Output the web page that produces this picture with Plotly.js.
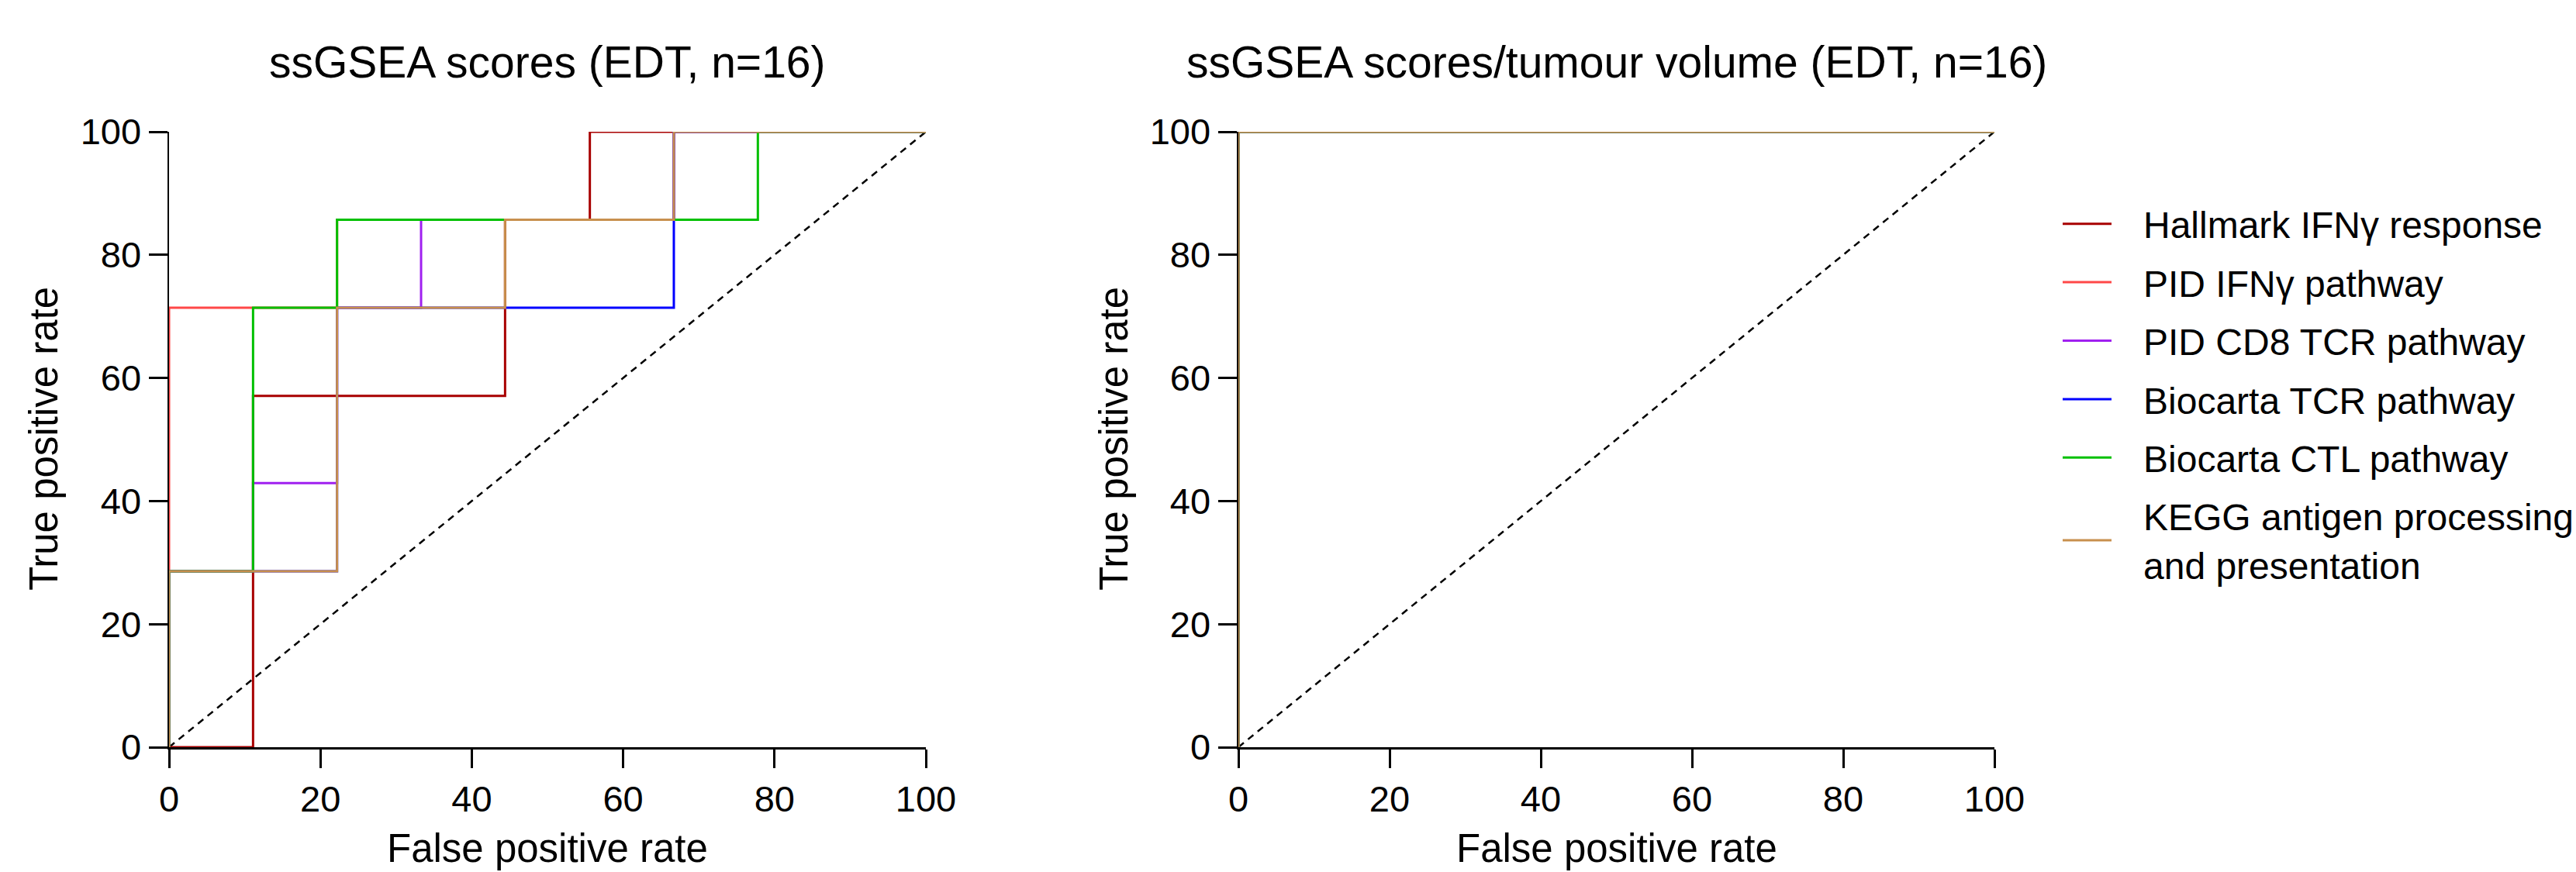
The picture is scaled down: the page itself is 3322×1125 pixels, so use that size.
<!DOCTYPE html>
<html><head><meta charset="utf-8">
<script src="https://cdn.plot.ly/plotly-3.0.1.min.js"></script>
<style>html,body{margin:0;padding:0;background:#fff}</style>
</head><body><div id="chart" style="width:3322px;height:1125px"></div>
<script>
// ---- data ----
const seriesNames = ["Hallmark IFNγ response", "PID IFNγ pathway", "PID CD8 TCR pathway",
  "Biocarta TCR pathway", "Biocarta CTL pathway", "KEGG antigen processing<br>and presentation"];
const seriesColors = ["#A80000", "#FF4848", "#A020F0", "#0000FF", "#00C000", "#C8904E"];

// Left panel: ssGSEA scores (FPR %, TPR %)
const hallmarkFPR = [0, 11.1, 11.1, 44.4, 44.4, 55.6, 55.6, 100];
const hallmarkTPR = [0, 0, 57.1, 57.1, 85.7, 85.7, 100, 100];
const pidIfngFPR = [0, 0, 22.2, 22.2, 66.7, 66.7, 100];
const pidIfngTPR = [0, 71.4, 71.4, 85.7, 85.7, 100, 100];
const pidCd8FPR = [0, 0, 11.1, 11.1, 22.2, 22.2, 33.3, 33.3, 66.7, 66.7, 100];
const pidCd8TPR = [0, 28.6, 28.6, 42.9, 42.9, 71.4, 71.4, 85.7, 85.7, 100, 100];
const biocartaTcrFPR = [0, 0, 22.2, 22.2, 66.7, 66.7, 100];
const biocartaTcrTPR = [0, 28.6, 28.6, 71.4, 71.4, 100, 100];
const biocartaCtlFPR = [0, 0, 11.1, 11.1, 22.2, 22.2, 77.8, 77.8, 100];
const biocartaCtlTPR = [0, 28.6, 28.6, 71.4, 71.4, 85.7, 85.7, 100, 100];
const keggFPR = [0, 0, 22.2, 22.2, 44.4, 44.4, 66.7, 66.7, 100];
const keggTPR = [0, 28.6, 28.6, 71.4, 71.4, 85.7, 85.7, 100, 100];

// Right panel: ssGSEA scores / tumour volume (all series identical, perfect classifier)
const rightFPR = [0, 0, 100];
const rightTPR = [0, 100, 100];

// Reference diagonal
const diagFPR = [0, 100];
const diagTPR = [0, 100];

const tickVals = [0, 20, 40, 60, 80, 100];
const tickText = ["0", "20", "40", "60", "80", "100"];

const leftTitle = "ssGSEA scores (EDT, n=16)";
const rightTitle = "ssGSEA scores/tumour volume (EDT, n=16)";
const xTitle = "False positive rate";
const yTitle = "True positive rate";

// ---- traces ----
const leftX = [hallmarkFPR, pidIfngFPR, pidCd8FPR, biocartaTcrFPR, biocartaCtlFPR, keggFPR];
const leftY = [hallmarkTPR, pidIfngTPR, pidCd8TPR, biocartaTcrTPR, biocartaCtlTPR, keggTPR];

const FONT = "Liberation Sans, Arial, Helvetica, sans-serif";
const traces = [];
traces.push({x: diagFPR, y: diagTPR, xaxis: "x", yaxis: "y", mode: "lines", showlegend: false,
  line: {color: "#000", width: 2.5, dash: "9px,7px"}, hoverinfo: "skip"});
traces.push({x: diagFPR, y: diagTPR, xaxis: "x2", yaxis: "y2", mode: "lines", showlegend: false,
  line: {color: "#000", width: 2.5, dash: "9px,7px"}, hoverinfo: "skip"});
for (let i = 0; i < seriesNames.length; i++) {
  traces.push({x: leftX[i], y: leftY[i], xaxis: "x", yaxis: "y", mode: "lines",
    name: seriesNames[i], legendgroup: "g" + i, cliponaxis: false,
    line: {color: seriesColors[i], width: 3, shape: "linear"}});
}
for (let i = 0; i < seriesNames.length; i++) {
  traces.push({x: rightFPR, y: rightTPR, xaxis: "x2", yaxis: "y2", mode: "lines",
    name: seriesNames[i], legendgroup: "g" + i, showlegend: false, cliponaxis: false,
    line: {color: seriesColors[i], width: 3}});
}

const W = 3322, H = 1125;
const yDom = [(H - 964) / H, (H - 170) / H];
function xax(domain) {
  return {domain: domain, range: [0, 100], tickvals: tickVals, ticktext: tickText,
    ticks: "outside", ticklen: 24, tickwidth: 3, tickcolor: "#000",
    showline: true, linewidth: 3, linecolor: "#000", showgrid: false, zeroline: false,
    tickfont: {family: FONT, size: 47, color: "#000"}, layer: "below traces", fixedrange: true};
}
function yax(domain, anchor) {
  return {domain: domain, range: [0, 100], anchor: anchor, tickvals: tickVals, ticktext: tickText,
    ticks: "outside", ticklen: 24, tickwidth: 3, tickcolor: "#000",
    showline: true, linewidth: 2.5, linecolor: "#000", showgrid: false, zeroline: false,
    tickfont: {family: FONT, size: 47, color: "#000"}, layer: "below traces", fixedrange: true};
}

const layout = {
  width: W, height: H, margin: {l: 0, r: 0, t: 0, b: 0},
  paper_bgcolor: "#fff", plot_bgcolor: "#fff",
  font: {family: FONT, color: "#000"},
  xaxis: Object.assign(xax([218 / W, 1194 / W]), {anchor: "y"}),
  yaxis: yax(yDom, "x"),
  xaxis2: Object.assign(xax([1597 / W, 2572 / W]), {anchor: "y2"}),
  yaxis2: yax(yDom, "x2"),
  showlegend: true,
  legend: {x: 2655 / W, y: 1 - 251 / H, xanchor: "left", yanchor: "top",
    font: {family: FONT, size: 48, color: "#000"}, itemwidth: 63,
    traceorder: "grouped", tracegroupgap: 10, bgcolor: "rgba(0,0,0,0)", borderwidth: 0},
  annotations: [
    {text: leftTitle, x: 706 / W, y: 1 - 80 / H, xref: "paper", yref: "paper", showarrow: false,
      xanchor: "center", yanchor: "middle", font: {family: FONT, size: 57, color: "#000"}},
    {text: rightTitle, x: 2084.5 / W, y: 1 - 80 / H, xref: "paper", yref: "paper", showarrow: false,
      xanchor: "center", yanchor: "middle", font: {family: FONT, size: 57, color: "#000"}},
    {text: xTitle, x: 706 / W, y: 0, xref: "paper", yref: "paper", showarrow: false,
      xanchor: "center", yanchor: "bottom", font: {family: FONT, size: 51, color: "#000"}},
    {text: xTitle, x: 2084.5 / W, y: 0, xref: "paper", yref: "paper", showarrow: false,
      xanchor: "center", yanchor: "bottom", font: {family: FONT, size: 51, color: "#000"}},
    {text: yTitle, x: 56 / W, y: 1 - 566 / H, xref: "paper", yref: "paper", showarrow: false,
      textangle: -90, xanchor: "center", yanchor: "middle", font: {family: FONT, size: 51, color: "#000"}},
    {text: yTitle, x: 1436 / W, y: 1 - 566 / H, xref: "paper", yref: "paper", showarrow: false,
      textangle: -90, xanchor: "center", yanchor: "middle", font: {family: FONT, size: 51, color: "#000"}}
  ]
};

Plotly.newPlot("chart", traces, layout, {displayModeBar: false, staticPlot: true}).then(function () {
  // widen the gap between legend line and its label, and let the label extend freely
  document.querySelectorAll(".legend [clip-path]").forEach(function (el) {
    el.removeAttribute("clip-path");
  });
  document.querySelectorAll(".legend .legendtext").forEach(function (t) {
    t.setAttribute("transform", "translate(36,0)");
  });
});
</script>
</body></html>
